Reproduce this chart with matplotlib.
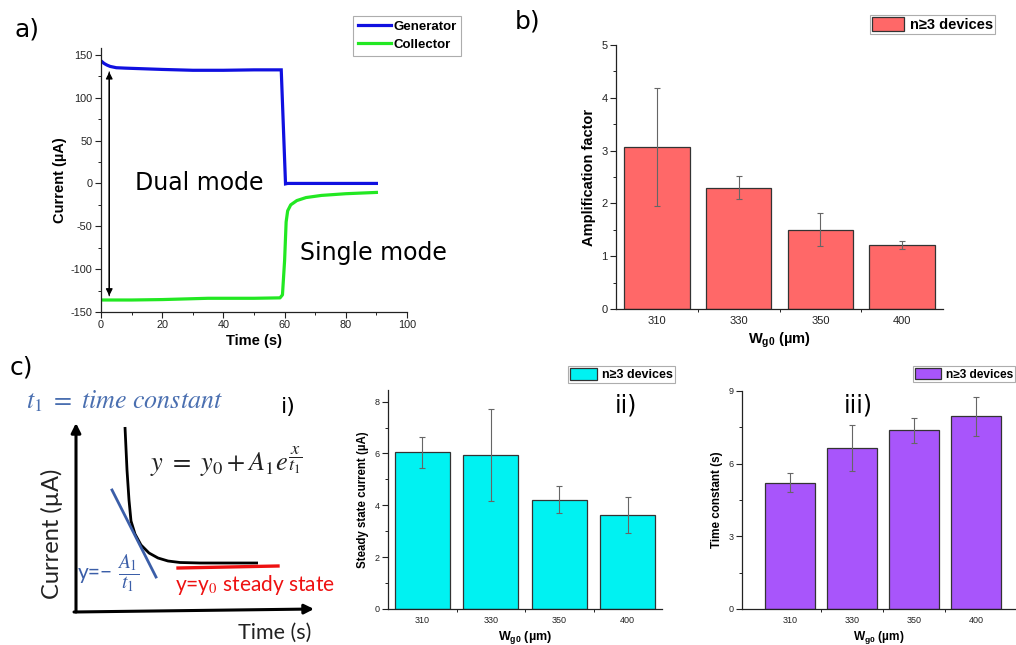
import matplotlib
matplotlib.use("Agg")
import matplotlib.pyplot as plt
from matplotlib.ticker import MultipleLocator, FixedLocator
from matplotlib.patches import Patch

plt.rcParams['font.family'] = ['Liberation Sans', 'DejaVu Sans']
plt.rcParams['axes.unicode_minus'] = False

# ---------------- data ----------------
# panel a
gen_t = [0, 1, 2, 3, 5, 8, 12, 20, 30, 40, 50, 58.9, 59.6, 60.3, 61, 70, 80, 90]
gen_i = [143, 140, 138, 136.5, 135, 134.5, 134, 133, 132, 132, 132.5, 132.5, 66, -0.5, 0, 0, 0, 0]
col_t = [0, 10, 20, 35, 50, 58.5, 59.3, 60, 60.5, 61, 62, 64, 67, 72, 80, 90]
col_i = [-136, -136, -135.5, -134, -134, -133.5, -130, -90, -45, -32, -25, -20, -16.5, -14, -12, -10.5]

widths = ["310", "330", "350", "400"]
# panel b
amp = [3.07, 2.30, 1.50, 1.21]
amp_err = [1.12, 0.21, 0.31, 0.07]
# panel c ii
ss_current = [6.05, 5.95, 4.22, 3.62]
ss_err = [0.60, 1.78, 0.52, 0.69]
# panel c iii
tconst = [5.22, 6.65, 7.38, 7.95]
tconst_err = [0.38, 0.95, 0.52, 0.82]

# schematic (panel c i), pixel-like coords
curve_x = [125, 127, 129, 131, 135, 141, 149, 158, 168, 180, 200, 258]
curve_y = [427, 470, 500, 521, 534, 545, 553, 558, 561, 562.5, 563, 563]
tangent_x = [112, 156]
tangent_y = [490, 577]
steady_x = [178, 278]
steady_y = [568, 566]

W, H = 1016, 645
fig = plt.figure(figsize=(W / 100, H / 100), dpi=100)


def frac(x0, y0, x1, y1):
    return [x0 / W, 1 - y1 / H, (x1 - x0) / W, (y1 - y0) / H]


def style_axes(ax, lab_size):
    for s in ['top', 'right']:
        ax.spines[s].set_visible(False)
    for s in ['left', 'bottom']:
        ax.spines[s].set_linewidth(0.9)
        ax.spines[s].set_color('#222222')
    ax.tick_params(which='major', direction='out', length=4, width=0.8,
                   labelsize=lab_size, colors='#222222', pad=2)
    ax.tick_params(which='minor', direction='out', length=2, width=0.7, colors='#222222')


# ---------------- panel a ----------------
axa = fig.add_axes(frac(101, 48, 407, 312))
axa.plot(gen_t, gen_i, color='#1010e0', lw=2.3, label='Generator', solid_joinstyle='miter')
axa.plot(col_t, col_i, color='#22e822', lw=2.3, label='Collector')
axa.set_xlim(0, 100)
axa.set_ylim(-150, 158)
axa.xaxis.set_major_locator(MultipleLocator(20))
axa.xaxis.set_minor_locator(MultipleLocator(10))
axa.yaxis.set_major_locator(MultipleLocator(50))
axa.yaxis.set_minor_locator(MultipleLocator(25))
style_axes(axa, 7.8)
axa.set_xlabel('Time (s)', fontsize=10.5, fontweight='bold', labelpad=3)
axa.set_ylabel('Current (µA)', fontsize=10.5, fontweight='bold', labelpad=3)
axa.annotate('', xy=(2.7, 130), xytext=(2.7, -131),
             arrowprops=dict(arrowstyle='-|>', color='black', lw=0.9,
                             mutation_scale=10, shrinkA=0, shrinkB=0))
axa.annotate('', xy=(2.7, -131), xytext=(2.7, 130),
             arrowprops=dict(arrowstyle='-|>', color='black', lw=0.9,
                             mutation_scale=10, shrinkA=0, shrinkB=0))
axa.text(11, 0, 'Dual mode', fontsize=17, family='DejaVu Sans', va='center', ha='left')
axa.text(65, -81, 'Single mode', fontsize=17, family='DejaVu Sans', va='center', ha='left')
leg = axa.legend(loc='upper left', bbox_to_anchor=(353 / W, 1 - 16 / H),
                 bbox_transform=fig.transFigure, frameon=True, fancybox=False,
                 edgecolor='#999999', prop=dict(weight='bold', size=9.5),
                 handlelength=2.5, handletextpad=0.2, borderpad=0.35,
                 labelspacing=0.45, borderaxespad=0)
leg.get_frame().set_linewidth(0.8)
fig.text(15 / W, 1 - 30 / H, 'a)', fontsize=18, family='DejaVu Sans', va='center', ha='left')

plt.rcParams['mathtext.fontset'] = 'custom'
plt.rcParams['mathtext.rm'] = 'Liberation Sans'
plt.rcParams['mathtext.bf'] = 'Liberation Sans:bold'


# ---------------- bar panels ----------------
def bar_panel(rect, vals, errs, color, ylim, ymaj, ymin_, ylabel, xlim, lab_size,
              ylab_size, xlab_size, leg_rect, leg_size):
    ax = fig.add_axes(rect)
    x = list(range(len(widths)))
    ax.bar(x, vals, width=0.8, color=color, edgecolor='#333333', linewidth=0.9, zorder=2)
    ax.errorbar(x, vals, yerr=errs, fmt='none', ecolor='#666666', elinewidth=0.8,
                capsize=2.2, capthick=0.8, zorder=3)
    ax.set_xlim(*xlim)
    ax.set_ylim(*ylim)
    ax.set_xticks(x)
    ax.set_xticklabels(widths)
    ax.xaxis.set_minor_locator(FixedLocator([0.5, 1.5, 2.5]))
    ax.yaxis.set_major_locator(MultipleLocator(ymaj))
    ax.yaxis.set_minor_locator(MultipleLocator(ymin_))
    style_axes(ax, lab_size)
    ax.tick_params(axis='x', which='major', length=0, pad=5)
    ax.tick_params(axis='x', which='minor', length=2.5)
    ax.set_ylabel(ylabel, fontsize=ylab_size, fontweight='bold', labelpad=4)
    ax.set_xlabel(r'W$_{\mathbf{g0}}$ (µm)', fontsize=xlab_size, fontweight='bold', labelpad=3)
    handle = Patch(facecolor=color, edgecolor='#333333', linewidth=0.9)
    lg = ax.legend([handle], ['n≥3 devices'], loc='upper left',
                   bbox_to_anchor=(leg_rect[0] / W, 1 - leg_rect[1] / H),
                   bbox_transform=fig.transFigure, frameon=True, fancybox=False,
                   edgecolor='#999999', prop=dict(weight='bold', size=leg_size),
                   handlelength=2.2, handleheight=1.1, handletextpad=0.4,
                   borderpad=0.15, borderaxespad=0)
    lg.get_frame().set_linewidth(0.8)
    return ax


axb = bar_panel(frac(616, 45, 943, 309), amp, amp_err, '#ff6868', (0, 5), 1, 0.5,
                'Amplification factor', (-0.5, 3.5), 8, 10.5, 10.5, (870, 15), 10.5)
fig.text(515 / W, 1 - 22 / H, 'b)', fontsize=18, family='DejaVu Sans', va='center', ha='left')

axii = bar_panel(frac(388, 390, 662, 609), ss_current, ss_err, '#00f2f2', (0, 8.45), 2, 1,
                 'Steady state current (µA)', (-0.5, 3.5), 6.5, 8.3, 9, (568, 366), 9)
fig.text(626 / W, 1 - 405 / H, 'ii)', fontsize=17, family='DejaVu Sans', va='center', ha='center')

axiii = bar_panel(frac(742, 391, 1015, 609), tconst, tconst_err, '#a855fb', (0, 9), 3, 1.5,
                  'Time constant (s)', (-0.77, 3.63), 6.5, 8.4, 8.6, (913, 366), 8.6)
fig.text(858 / W, 1 - 405 / H, 'iii)', fontsize=17, family='DejaVu Sans', va='center', ha='center')

# ---------------- panel c i (schematic) ----------------
plt.rcParams['mathtext.fontset'] = 'stix'
axi = fig.add_axes([0, 0, 340 / W, 285 / H])
axi.set_xlim(0, 340)
axi.set_ylim(645, 360)
axi.axis('off')
axi.annotate('', xy=(76, 423), xytext=(76, 612),
             arrowprops=dict(arrowstyle='-|>', color='black', lw=2.2, mutation_scale=14,
                             shrinkA=0, shrinkB=0))
axi.annotate('', xy=(314, 609), xytext=(74, 612),
             arrowprops=dict(arrowstyle='-|>', color='black', lw=2.2, mutation_scale=14,
                             shrinkA=0, shrinkB=0))
axi.plot(curve_x, curve_y, color='black', lw=2.0, solid_capstyle='butt')
axi.plot(tangent_x, tangent_y, color='#3b5ea8', lw=2.0)
axi.plot(steady_x, steady_y, color='#ee1111', lw=2.4)
axi.text(26, 401, r'$t_1\ =\ time\ constant$', color='#4a6fb0', fontsize=18.7,
         va='center', ha='left')
axi.text(288, 407, 'i)', fontsize=16, family='DejaVu Sans', va='center', ha='center')
axi.text(150, 462, r'$y\ =\ y_0 + A_1 e^{\dfrac{x}{t_1}}$', fontsize=19, color='#222222',
         va='center', ha='left')
axi.text(78, 573, 'y=−', fontsize=15, color='#3b5ea8', family='Lato',
         va='center', ha='left')
axi.text(128, 573, r'$\dfrac{A_1}{t_1}$', fontsize=14, color='#3b5ea8',
         va='center', ha='center')
axi.text(175, 585, 'y=y$_0$ steady state', fontsize=15, color='#ee1111',
         family='Lato', va='center', ha='left')
axi.text(52, 534, 'Current (µA)', fontsize=17, family='Lato', rotation=90,
         va='center', ha='center', color='#222222')
axi.text(275, 633, 'Time (s)', fontsize=15.5, family='Lato', va='center',
         ha='center', color='#222222')
fig.text(10 / W, 1 - 368 / H, 'c)', fontsize=18, family='DejaVu Sans', va='center', ha='left')

fig.savefig('out.png', dpi=100)
